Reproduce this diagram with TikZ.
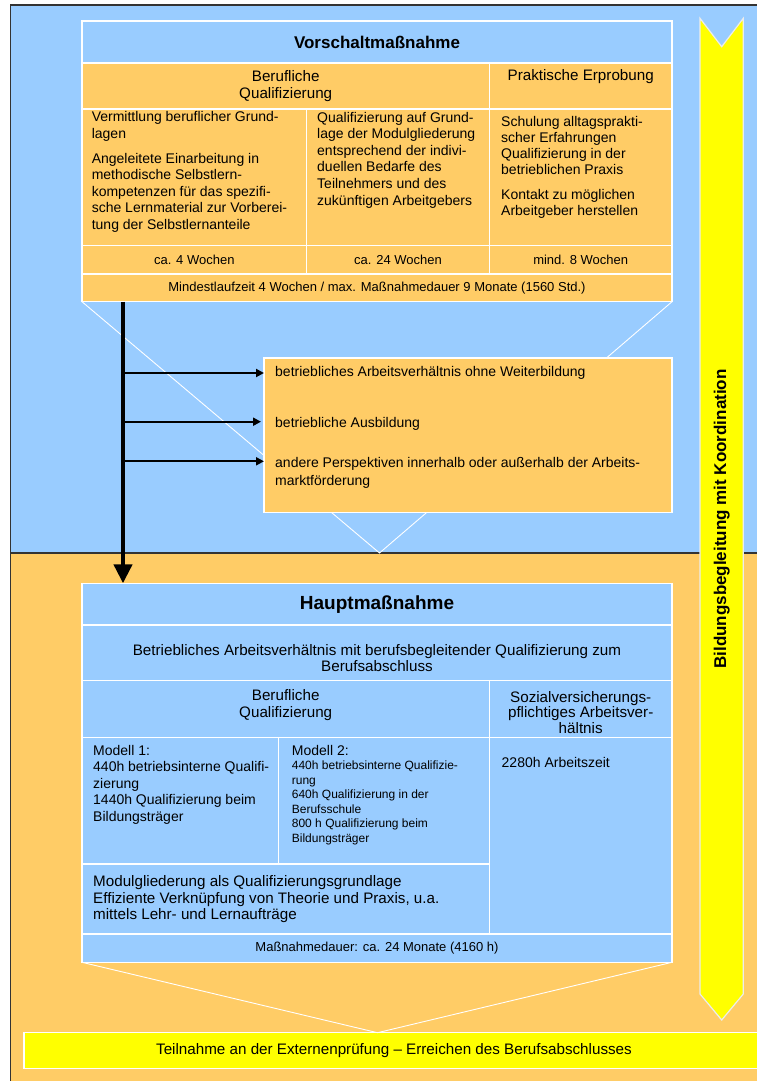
\documentclass[tikz,border=0pt]{standalone}
\usepackage{fontspec}
\setmainfont{Liberation Sans}
\usetikzlibrary{positioning,arrows.meta}

\definecolor{paleblue}{HTML}{99CCFF}
\definecolor{paleorange}{HTML}{FFCC66}
\definecolor{signal}{HTML}{FFFF00}

\begin{document}
\begin{tikzpicture}[
    x=1pt, y=-1pt,
    cell/.style={rectangle, draw=white, line width=1.3pt, anchor=north west, inner sep=0pt, outer sep=0pt},
    body/.style={font=\fontsize{14}{16.6}\selectfont, align=left, inner sep=0pt, anchor=north west},
    head/.style={font=\fontsize{15.2}{16.4}\selectfont, align=center, inner sep=0pt},
    small/.style={font=\fontsize{13}{15}\selectfont},
    title/.style={font=\bfseries\fontsize{17}{20}\selectfont},
    funnel/.style={draw=white, line width=0.9pt},
    branch/.style={draw=black, line width=2pt, -{Triangle[width=8pt,length=8pt]}},
    trunk/.style={draw=black, line width=4.3pt, -{Triangle[width=18pt,length=19pt]}},
]
\useasboundingbox (0,0) rectangle (756,1081);

% Background areas
\fill[paleblue] (10.6,5) rectangle (770,553);
\fill[paleorange] (10.6,553) rectangle (770,1090);
\draw[black!80, line width=1.6pt] (10.6,1090) -- (10.6,5) -- (770,5);
\draw[black!80, line width=1.6pt] (10.6,553) -- (770,553);

% Vorschaltmassnahme
\node[cell, fill=paleblue, minimum width=590pt, minimum height=42pt, title] (vtitle) at (82,21) {Vorschaltmaßnahme};
\node[cell, fill=paleorange, minimum width=407.4pt, minimum height=46pt, head] (vberuf) at (vtitle.south west) {Berufliche\\Qualifizierung};
\node[cell, fill=paleorange, minimum width=182.6pt, minimum height=46pt] (vprakt) at (vberuf.north east) {};
\node[cell, fill=paleorange, minimum width=224.6pt, minimum height=136.7pt] (vc1) at (vberuf.south west) {};
\node[cell, fill=paleorange, minimum width=182.8pt, minimum height=136.7pt] (vc2) at (vc1.north east) {};
\node[cell, fill=paleorange, minimum width=182.6pt, minimum height=136.7pt] (vc3) at (vc2.north east) {};
\node[cell, fill=paleorange, minimum width=224.6pt, minimum height=28.3pt, small] (vw1) at (vc1.south west) {ca. 4 Wochen};
\node[cell, fill=paleorange, minimum width=182.8pt, minimum height=28.3pt, small] (vw2) at (vw1.north east) {ca. 24 Wochen};
\node[cell, fill=paleorange, minimum width=182.6pt, minimum height=28.3pt, small] (vw3) at (vw2.north east) {mind. 8 Wochen};
\node[cell, fill=paleorange, minimum width=590pt, minimum height=27.7pt, small] (vmin) at (vw1.south west) {Mindestlaufzeit 4 Wochen / max. Maßnahmedauer 9 Monate (1560 Std.)};

\node[head] (vprakt-t) at ([shift={(0,14)}]vprakt.north) {Praktische Erprobung};
\node[body] (vc1-t) at ([shift={(9.6,2.5)}]vc1.north west) {Vermittlung beruflicher Grund-\\lagen\\[8pt]
    Angeleitete Einarbeitung in\\methodische Selbstlern-\\kompetenzen für das spezifi-\\sche Lernmaterial zur Vorberei-\\tung der Selbstlernanteile};
\node[body] (vc2-t) at ([shift={(10.4,2.8)}]vc2.north west) {Qualifizierung auf Grund-\\lage der Modulgliederung\\entsprechend der indivi-\\duellen Bedarfe des\\Teilnehmers und des\\zukünftigen Arbeitgebers};
\node[body, font=\fontsize{14}{16}\selectfont] (vc3-t) at ([shift={(11.6,7.2)}]vc3.north west) {Schulung alltagsprakti-\\scher Erfahrungen\\Qualifizierung in der\\betrieblichen Praxis\\[9pt]
    Kontakt zu möglichen\\Arbeitgeber herstellen};

% Funnel to the alternatives
\coordinate (vtip) at (379.5,553);
\draw[funnel] (vmin.south west) -- (vtip) -- (vmin.south east);

% Alternatives
\node[cell, fill=paleorange, minimum width=408pt, minimum height=154.7pt] (persp) at (264,358) {};
\node[body] (p1) at ([shift={(11,8)}]persp.north west) {betriebliches Arbeitsverhältnis ohne Weiterbildung};
\node[body] (p2) at ([shift={(11,59.5)}]persp.north west) {betriebliche Ausbildung};
\node[body, font=\fontsize{14}{18.3}\selectfont] (p3) at ([shift={(11,99)}]persp.north west) {andere Perspektiven innerhalb oder außerhalb der Arbeits-\\marktförderung};

% Hauptmassnahme
\node[cell, fill=paleblue, minimum width=590pt, minimum height=41.7pt, title, font=\bfseries\fontsize{19}{22}\selectfont] (htitle) at (82,583.3) {Hauptmaßnahme};
\node[cell, fill=paleblue, minimum width=590pt, minimum height=55.7pt] (harbeit) at (htitle.south west) {};
\node[cell, fill=paleblue, minimum width=407.4pt, minimum height=56.6pt] (hberuf) at (harbeit.south west) {};
\node[cell, fill=paleblue, minimum width=182.6pt, minimum height=56.6pt] (hsozial) at (hberuf.north east) {};
\node[cell, fill=paleblue, minimum width=196.7pt, minimum height=126.7pt] (hm1) at (hberuf.south west) {};
\node[cell, fill=paleblue, minimum width=210.7pt, minimum height=126.7pt] (hm2) at (hm1.north east) {};
\node[cell, fill=paleblue, minimum width=182.6pt, minimum height=196.7pt] (harbzeit) at (hm2.north east) {};
\node[cell, fill=paleblue, minimum width=407.4pt, minimum height=70pt] (hmodul) at (hm1.south west) {};
\node[cell, fill=paleblue, minimum width=590pt, minimum height=28.3pt, small] (hdauer) at (hmodul.south west) {Maßnahmedauer: ca. 24 Monate (4160 h)};

\node[head, font=\fontsize{15.2}{16.2}\selectfont] (harbeit-t) at ([shift={(0,5)}]harbeit.center) {Betriebliches Arbeitsverhältnis mit berufsbegleitender Qualifizierung zum\\Berufsabschluss};
\node[head] (hberuf-t) at ([shift={(0,-4)}]hberuf.center) {Berufliche\\Qualifizierung};
\node[head, font=\fontsize{15.2}{15.6}\selectfont] (hsozial-t) at ([shift={(0,3.5)}]hsozial.center) {Sozialversicherungs-\\pflichtiges Arbeitsver-\\hältnis};
\node[body, font=\fontsize{14}{16.4}\selectfont] (hm1-t) at ([shift={(11,7.9)}]hm1.north west) {Modell 1:\\440h betriebsinterne Qualifi-\\zierung\\1440h Qualifizierung beim\\Bildungsträger};
\node[body] (hm2-t) at ([shift={(13,7.9)}]hm2.north west) {Modell 2:};
\node[body, font=\fontsize{12}{14.5}\selectfont] (hm2-s) at ([shift={(13,23.4)}]hm2.north west) {440h betriebsinterne Qualifizie-\\rung\\640h Qualifizierung in der\\Berufsschule\\800 h Qualifizierung beim\\Bildungsträger};
\node[body] (harbzeit-t) at ([shift={(12.1,19.9)}]harbzeit.north west) {2280h Arbeitszeit};
\node[body, font=\fontsize{15.2}{16.2}\selectfont] (hmodul-t) at ([shift={(11,11.6)}]hmodul.north west) {Modulgliederung als Qualifizierungsgrundlage\\Effiziente Verknüpfung von Theorie und Praxis, u.a.\\mittels Lehr- und Lernaufträge};

% Final exam
\node[cell, fill=signal, minimum width=740pt, minimum height=35.6pt, font=\fontsize{15.2}{17}\selectfont] (exam) at (24,1032.7) {Teilnahme an der Externenprüfung – Erreichen des Berufsabschlusses};
\coordinate (htip) at (377.5,1032.7);
\draw[funnel] (hdauer.south west) -- (htip) -- (hdauer.south east);

% Arrows
\coordinate (trunktop) at ([xshift=41pt]vmin.south west);
\draw[trunk] (trunktop) -- (trunktop |- htitle.north);
\coordinate (t1) at (123,373);
\coordinate (t2) at (123,421.7);
\coordinate (t3) at (123,461.3);
\draw[branch] (t1) -- (t1 -| persp.west);
\draw[branch] (t2) -- ([xshift=-3pt]t2 -| persp.west);
\draw[branch] (t3) -- (t3 -| persp.west);

% Side band
\draw[fill=signal, draw=white!85!gray, line width=1.2pt] (700,18.3) -- (721.7,46.7) -- (743.3,18.3) -- (743.3,994) -- (721.7,1020) -- (700,994) -- cycle;
\node[rotate=90, font=\bfseries\fontsize{17}{19}\selectfont] (band) at (721.7,519) {Bildungsbegleitung mit Koordination};

\end{tikzpicture}
\end{document}
